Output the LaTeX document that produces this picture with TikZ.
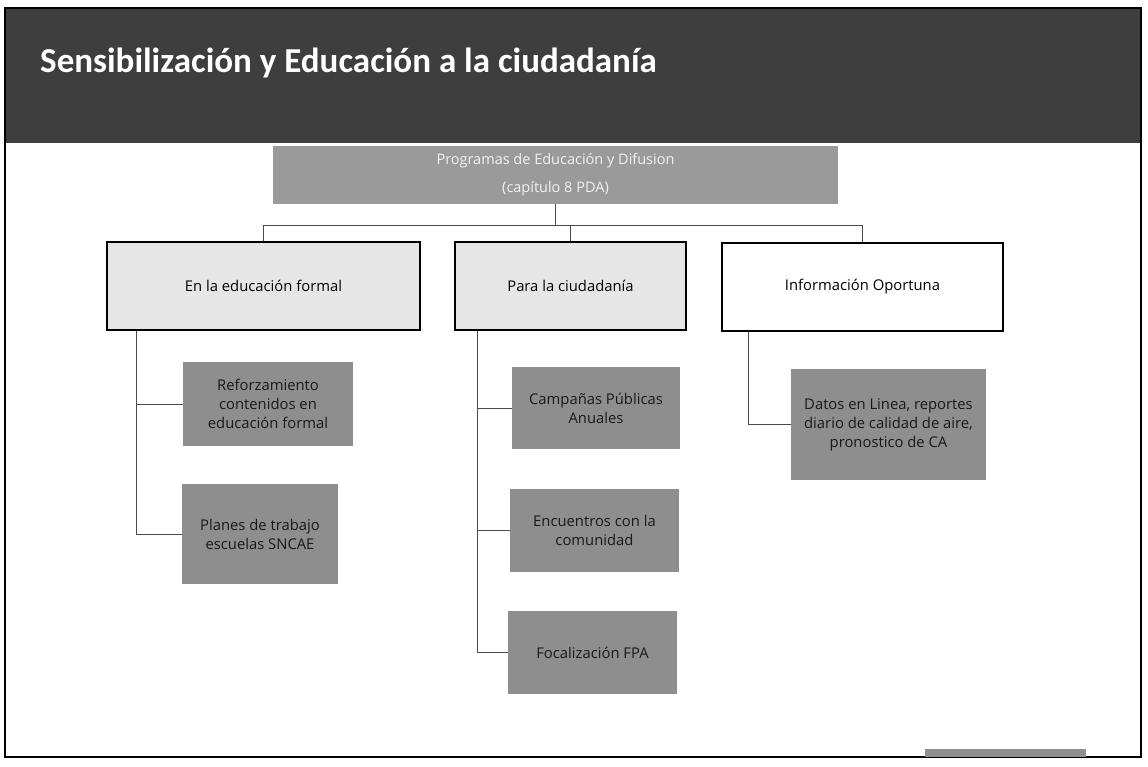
\documentclass[tikz,border=0pt]{standalone}
\usepackage{fontspec}
\setmainfont{Open Sans}
\newfontfamily\titlefont{Carlito}
\usetikzlibrary{positioning}
\definecolor{bargray}{HTML}{3E3E3E}
\definecolor{topgray}{HTML}{9A9A9A}
\definecolor{levelgray}{HTML}{E6E6E6}
\definecolor{leafgray}{HTML}{8E8E8E}
\definecolor{linkgray}{HTML}{4A4A4A}

\begin{document}
\begin{tikzpicture}[x=1pt, y=-1pt,
    topbox/.style={rectangle, fill=topgray, text=white!95!black, align=center, inner sep=0pt,
      font=\fontsize{14.5}{28}\selectfont},
    levelbox/.style={rectangle, draw=black, line width=1.6pt, inner sep=0pt,
      minimum height=88pt, font=\fontsize{14.8}{18}\selectfont},
    leafbox/.style={rectangle, fill=leafgray, text=black!90, align=center, inner sep=0pt,
      font=\fontsize{14.8}{19}\selectfont},
    link/.style={draw=linkgray, line width=0.8pt}]

        \useasboundingbox (0,0) rectangle (1148,766);
        \fill[white] (0,0) rectangle (1148,766);

        % slide frame and title bar
        \fill[bargray] (5,8) rectangle (1141,143);
        \draw[line width=1.4pt] (5,8) rectangle (1141,757);
        \fill[leafgray] (925,749) rectangle (1086,757);
        \node[anchor=base west, text=white, font=\titlefont\bfseries\fontsize{35}{40}\selectfont, inner sep=0pt] (title) at (40,72) {Sensibilización y Educación a la ciudadanía};

        \node[topbox, minimum width=565pt, minimum height=58pt] (prog) at (555.5,175) {Programas de Educación y Difusion\\(capítulo 8 PDA)};

        \node[levelbox, fill=levelgray, minimum width=313pt] (edu) at (263.5,286) {En la educación formal};
        \node[levelbox, fill=levelgray, minimum width=231pt] (ciud) at (570.5,286) {Para la ciudadanía};
        \node[levelbox, fill=white, minimum width=281pt] (info) at (862.5,287) {Información Oportuna};

        \node[leafbox, minimum width=170pt, minimum height=84pt] (refz) at (268,404) {Reforzamiento\\contenidos en\\educación formal};
        \node[leafbox, minimum width=156pt, minimum height=100pt] (plan) at (260,534) {Planes de trabajo\\escuelas SNCAE};
        \node[leafbox, minimum width=168pt, minimum height=82pt] (camp) at (596,408) {Campañas Públicas\\Anuales};
        \node[leafbox, minimum width=169pt, minimum height=83pt] (encu) at (594.5,530.5) {Encuentros con la\\comunidad};
        \node[leafbox, minimum width=169pt, minimum height=83pt] (foco) at (592.5,652.5) {Focalización FPA};
        \node[leafbox, minimum width=195pt, minimum height=111pt] (dato) at (888.5,424.5) {Datos en Linea, reportes\\diario de calidad de aire,\\pronostico de CA};

        \coordinate (bus) at (555.5,225);
        \draw[link] (prog) -- (bus);
        \draw[link] (bus) -| (edu);
        \draw[link] (bus) -| (ciud);
        \draw[link] (bus) -| (info);

        \draw[link] ([xshift=30pt]edu.south west) |- (refz.west);
        \draw[link] ([xshift=30pt]edu.south west) |- (plan.west);
        \draw[link] ([xshift=23pt]ciud.south west) |- (camp.west);
        \draw[link] ([xshift=23pt]ciud.south west) |- (encu.west);
        \draw[link] ([xshift=23pt]ciud.south west) |- (foco.west);
        \draw[link] ([xshift=27pt]info.south west) |- (dato.west);
      \end{tikzpicture}
\end{document}
